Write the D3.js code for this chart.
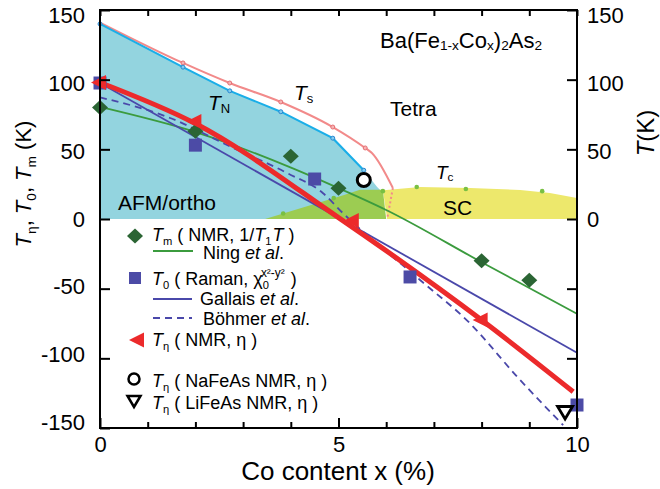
<!DOCTYPE html>
<html>
<head>
<meta charset="utf-8">
<script src="https://cdn.jsdelivr.net/npm/d3@7/dist/d3.min.js"></script>
<style>
  html, body { margin: 0; padding: 0; background: #fff; }
  svg { display: block; font-family: "Liberation Sans", Arial, sans-serif; }
</style>
</head>
<body>
<svg id="chart" width="660" height="489"></svg>
<script>
// ---- data: Co content x (%) and temperatures (K) ----
// Structural transition T_s
const tsX = [0, 1.74, 2.72, 3.79, 4.88, 5.56, 5.70, 6.14];
const tsT = [141, 112, 97.6, 84, 66, 51, 47.4, 22.2];
const tsDotX = [1.74, 2.72, 3.79, 4.88, 5.56];
const tsDotT = [112, 97.6, 84, 66, 51];
const tsDropX = [6.14, 6.02];
const tsDropT = [22.2, 0];
// Magnetic transition T_N
const tnX = [0, 1.74, 2.72, 3.79, 4.88, 5.53];
const tnT = [140, 109, 92, 77, 58, 35];
// AFM/ortho region outline
const afmX = [0, 1.74, 2.72, 3.79, 4.88, 5.53, 5.81, 5.90, 5.90, 0];
const afmT = [140, 109, 92, 77, 58, 35, 23, 20, 0, 0];
// Superconducting dome T_c
const tcX = [3.84, 4.90, 5.93, 6.64, 7.67, 9.27];
const tcT = [4, 15, 20, 23, 21.5, 20];
const scInX = [3.46, 5.10, 5.45, 5.93, 6.00];      // SC coexisting with AFM
const scInT = [0, 17, 21, 21, 0];
const scX = [5.93, 6.00, 6.71, 7.76, 8.81, 9.43, 10, 10, 6.02];
const scT = [21, 20.8, 23, 22.2, 20.8, 18.7, 15, 0, 0];

// T_m (NMR, 1/T1T)
const tmX = [0, 2, 4, 5, 8, 9];
const tmT = [80, 63, 45, 22, -30, -44];
// Ning et al. fit
const ningX = [0, 2, 5, 6, 8, 10];
const ningT = [80.4, 62.4, 22.2, 6.5, -31, -68];
// T_0 (Raman)
const t0X = [0, 2, 4.5, 6.5, 10];
const t0T = [97.6, 53, 28.7, -41.6, -133.5];
// Gallais et al.
const gallaisX = [0, 10];
const gallaisT = [97.6, -96];
// Bohmer et al.
const bohmerX = [0, 1.47, 2.73, 3.92, 4.67, 5.09, 6.71, 7.76, 8.74, 9.71];
const bohmerT = [87.3, 72.5, 52, 33, 18.7, 4.3, -43.8, -75, -113, -148];
// T_eta (NMR, eta)
const tetaX = [0, 2, 5.3, 8];
const tetaT = [98, 70, -1, -72.5];
const tetaLineX = [0, 2, 5, 8, 9.92];
const tetaLineT = [98, 68.5, 1, -72.5, -124];
// NaFeAs and LiFeAs
const naX = [5.53], naT = [28];
const liX = [9.75], liT = [-138.5];

// axis ticks
const leftTicks = [-150, -100, -50, 0, 50, 100, 150];
const rightTicks = [-100, -50, 0, 50, 100, 150];
const rightLabels = [0, 50, 100, 150];
const xMajor = [0, 5, 10];
const xMinor = [1, 2, 3, 4, 6, 7, 8, 9];

// ---- colours ----
const C = {
  afm: "#93d4df", scIn: "#9ccc52", sc: "#ede86c", tc: "#79c043",
  ts: "#f28a8a", tsDot: "#e56f74", tn: "#1aaee8", tnDot: "#2a86cf",
  tm: "#2b6534", ning: "#3b9b3e", t0: "#4c4ba6", gal: "#4a48aa",
  red: "#ec2a2b"
};

const svg = d3.select("#chart");
const x = d3.scaleLinear().domain([0, 10]).range([100, 577]);
const y = d3.scaleLinear().domain([-150, 150]).range([428, 10]);
const zip = (a, b) => a.map((v, i) => [v, b[i]]);
const line = d3.line().x(d => x(d[0])).y(d => y(d[1]));
const curved = d3.line().x(d => x(d[0])).y(d => y(d[1])).curve(d3.curveMonotoneX);

// ---- phase regions ----
svg.append("path").attr("d", line(zip(afmX, afmT)) + "Z").attr("fill", C.afm);
svg.append("path").attr("d", line(zip(scX, scT)) + "Z").attr("fill", C.sc);
svg.append("path").attr("d", line(zip(scInX, scInT)) + "Z").attr("fill", C.scIn);

// transition lines
svg.append("path").attr("d", curved(zip(tsX, tsT)))
  .attr("fill", "none").attr("stroke", C.ts).attr("stroke-width", 2);
svg.append("path").attr("d", line(zip(tsDropX, tsDropT)))
  .attr("fill", "none").attr("stroke", C.ts).attr("stroke-width", 2).attr("stroke-dasharray", "2,2.5");
svg.append("path").attr("d", line(zip(tnX, tnT)))
  .attr("fill", "none").attr("stroke", C.tn).attr("stroke-width", 2);

svg.selectAll(".tsdot").data(zip(tsDotX, tsDotT)).join("circle")
  .attr("cx", d => x(d[0])).attr("cy", d => y(d[1])).attr("r", 2)
  .attr("fill", "#f7b3b3").attr("stroke", C.tsDot).attr("stroke-width", 1);
svg.selectAll(".tndot").data(zip(tnX, tnT)).join("circle")
  .attr("cx", d => x(d[0])).attr("cy", d => y(d[1])).attr("r", 2)
  .attr("fill", "#7fcdf0").attr("stroke", C.tnDot).attr("stroke-width", 1);
svg.selectAll(".tcdot").data(zip(tcX, tcT)).join("circle")
  .attr("cx", d => x(d[0])).attr("cy", d => y(d[1])).attr("r", 2.3)
  .attr("fill", C.tc);

// ---- fitted lines ----
svg.append("path").attr("d", curved(zip(ningX, ningT)))
  .attr("fill", "none").attr("stroke", C.ning).attr("stroke-width", 1.8);
svg.append("path").attr("d", line(zip(gallaisX, gallaisT)))
  .attr("fill", "none").attr("stroke", C.gal).attr("stroke-width", 1.8);
svg.append("path").attr("d", curved(zip(bohmerX, bohmerT)))
  .attr("fill", "none").attr("stroke", C.gal).attr("stroke-width", 1.8).attr("stroke-dasharray", "7,5");
svg.append("path").attr("d", curved(zip(tetaLineX, tetaLineT)))
  .attr("fill", "none").attr("stroke", C.red).attr("stroke-width", 5);

// ---- markers ----
const diamond = "M0,-7.5L8,0L0,7.5L-8,0Z";
const square = "M-6.5,-6.5H6.5V6.5H-6.5Z";
const triLeft = "M-9,0L6,-7.5L6,7.5Z";
const triDown = "M-7.5,-5.5L7.5,-5.5L0,7Z";

function markers(cls, xs, ts, shape, fill, stroke, sw) {
  svg.selectAll("." + cls).data(zip(xs, ts)).join("path").attr("class", cls)
    .attr("d", shape).attr("transform", d => `translate(${x(d[0])},${y(d[1])})`)
    .attr("fill", fill).attr("stroke", stroke || "none").attr("stroke-width", sw || 0);
}
markers("t0", t0X, t0T, square, C.t0);
markers("tm", tmX, tmT, diamond, C.tm);
markers("teta", tetaX, tetaT, triLeft, C.red);
svg.selectAll(".na").data(zip(naX, naT)).join("circle").attr("class", "na")
  .attr("cx", d => x(d[0])).attr("cy", d => y(d[1])).attr("r", 6.5)
  .attr("fill", "#fff").attr("stroke", "#000").attr("stroke-width", 3);
markers("li", liX, liT, triDown, "#fff", "#000", 2.8);

// ---- axes ----
const ax = svg.append("g");
const styleAxis = g => {
  g.select(".domain").remove();
  g.selectAll("line").attr("stroke", "#000").attr("stroke-width", 2);
  g.selectAll("text").attr("font-family", "Liberation Sans, Arial, sans-serif").attr("font-size", 22).attr("fill", "#000");
};
const plain = d => String(d);
// value labels sit slightly toward the middle of the axis
const nudge = g => g.selectAll(".tick text").attr("transform", d => `translate(0,${d * 0.035})`);
ax.append("g").attr("transform", `translate(${x(0)},0)`)
  .call(d3.axisLeft(y).tickValues(leftTicks).tickFormat(plain).tickSizeInner(-10).tickSizeOuter(0).tickPadding(15))
  .call(styleAxis).call(nudge);
ax.append("g").attr("transform", `translate(${x(10)},0)`)
  .call(d3.axisRight(y).tickValues(rightTicks).tickSizeInner(-10).tickSizeOuter(0).tickPadding(10)
    .tickFormat(d => rightLabels.includes(d) ? String(d) : "")).call(styleAxis).call(nudge);
ax.append("g").attr("transform", `translate(0,${y(-150)})`)
  .call(d3.axisBottom(x).tickValues(xMajor).tickFormat(plain).tickSizeInner(-10).tickSizeOuter(0).tickPadding(8)).call(styleAxis);
ax.append("g").attr("transform", `translate(0,${y(-150)})`)
  .call(d3.axisBottom(x).tickValues(xMinor).tickSizeInner(-6).tickSizeOuter(0).tickFormat("")).call(styleAxis);
ax.append("g").attr("transform", `translate(0,${y(150)})`)
  .call(d3.axisTop(x).tickValues(xMajor.concat(xMinor)).tickSizeInner(-6).tickSizeOuter(0).tickFormat("")).call(styleAxis);
svg.append("rect").attr("x", x(0)).attr("y", y(150)).attr("width", x(10) - x(0)).attr("height", y(-150) - y(150))
  .attr("fill", "none").attr("stroke", "#000").attr("stroke-width", 2);

// ---- rich text helper: parts [text, style, dx] ; style: i = italic, s = subscript, u = superscript ----
function rich(parent, px, py, parts, size, opts = {}) {
  const t = parent.append("text").attr("x", px).attr("y", py).attr("font-size", size).attr("fill", "#000");
  if (opts.anchor) t.attr("text-anchor", opts.anchor);
  if (opts.transform) t.attr("transform", opts.transform);
  let shift = 0;
  parts.forEach(([txt, st = "", dx = 0]) => {
    const sub = st.includes("s"), sup = st.includes("u");
    const target = sub ? size * (opts.subDrop ?? 0.22) : sup ? -size * 0.45 : 0;
    const ts = t.append("tspan").text(txt).attr("dy", target - shift);
    if (dx) ts.attr("dx", dx);
    shift = target;
    if (st.includes("i")) ts.attr("font-style", "italic");
    if (sub) ts.attr("font-size", size * 0.62);
    if (sup) ts.attr("font-size", size * 0.66);
  });
  return t;
}

// axis titles
rich(svg, 0, 0, [["T", "i"], ["η", "s"], [", "], ["T", "i"], ["0", "s"], [", "], ["T", "i"], ["m", "s"], [" (K)"]], 22,
  { anchor: "middle", transform: "translate(31,184) rotate(-90)" });
rich(svg, 0, 0, [["T", "i"], ["(K)"]], 24, { anchor: "middle", transform: "translate(654,133) rotate(-90)" });
svg.append("text").attr("x", 338).attr("y", 480).attr("text-anchor", "middle").attr("font-size", 26).text("Co content x (%)");

// region and line labels
rich(svg, 380, 48, [["Ba(Fe"], ["1-x", "s"], ["Co"], ["x", "s"], [")"], ["2", "s"], ["As"], ["2", "s"]], 22, { subDrop: 0.08 });
svg.append("text").attr("x", 390).attr("y", 116).attr("font-size", 21).text("Tetra");
svg.append("text").attr("x", 118).attr("y", 210).attr("font-size", 21).text("AFM/ortho");
svg.append("text").attr("x", 443).attr("y", 215).attr("font-size", 21).text("SC");
rich(svg, 208, 110, [["T", "i"], ["N", "s"]], 21, { subDrop: 0.12 });
rich(svg, 294, 100, [["T", "i"], ["s", "s"]], 21, { subDrop: 0.12 });
rich(svg, 436, 179, [["T", "i"], ["c", "s"]], 19, { subDrop: 0.12 });

// ---- legend ----
const lg = svg.append("g");
const LF = 18;
lg.append("path").attr("d", diamond).attr("transform", "translate(135,236)").attr("fill", C.tm);
rich(lg, 152, 241, [["T", "i"], ["m", "s"], [" ( NMR, 1/"], ["T", "i"], ["1", "s"], ["T", "i", 1], [" )"]], LF);
lg.append("line").attr("x1", 153).attr("x2", 193).attr("y1", 251).attr("y2", 251).attr("stroke", C.ning).attr("stroke-width", 1.8);
rich(lg, 203, 259, [["Ning "], ["et al", "i"], ["."]], LF);
lg.append("path").attr("d", "M-6,-6H6V6H-6Z").attr("transform", "translate(135,278)").attr("fill", C.t0);
rich(lg, 152, 285, [["T", "i"], ["0", "s"], [" ( Raman, χ"], ["0", "s"], ["x²-y²", "u", -8], [" )", "", 1]], LF);
lg.append("line").attr("x1", 153).attr("x2", 192).attr("y1", 299).attr("y2", 299).attr("stroke", C.gal).attr("stroke-width", 1.8);
rich(lg, 200, 305, [["Gallais "], ["et al", "i"], ["."]], LF);
lg.append("line").attr("x1", 153).attr("x2", 192).attr("y1", 318).attr("y2", 318).attr("stroke", C.gal).attr("stroke-width", 1.8).attr("stroke-dasharray", "7,5");
rich(lg, 203, 325, [["Böhmer "], ["et al", "i"], ["."]], LF);
lg.append("path").attr("d", triLeft).attr("transform", "translate(138,340)").attr("fill", C.red);
rich(lg, 152, 346, [["T", "i"], ["η", "s"], [" ( NMR, η )"]], LF);
lg.append("circle").attr("cx", 134).attr("cy", 379).attr("r", 5.5).attr("fill", "#fff").attr("stroke", "#000").attr("stroke-width", 2.5);
rich(lg, 152, 387, [["T", "i"], ["η", "s"], [" ( NaFeAs NMR, η )"]], LF);
lg.append("path").attr("d", "M-6.5,-5L6.5,-5L0,6Z").attr("transform", "translate(134,401)").attr("fill", "#fff").attr("stroke", "#000").attr("stroke-width", 2.5);
rich(lg, 152, 409, [["T", "i"], ["η", "s"], [" (  LiFeAs NMR, η )"]], LF);
</script>
</body>
</html>
